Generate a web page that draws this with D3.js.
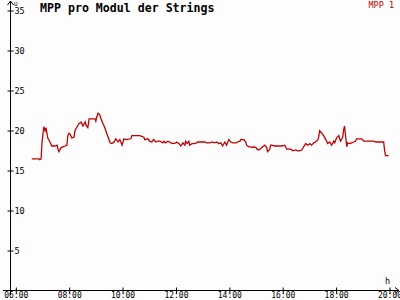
<!DOCTYPE html>
<html><head><meta charset="utf-8">
<script src="https://cdn.jsdelivr.net/npm/d3@7"></script>
<style>
html,body{margin:0;padding:0;background:#fdfdfd;}
svg{display:block;}
text{font-family:"DejaVu Sans Mono",monospace;}
</style></head>
<body>
<svg id="c" width="400" height="300"></svg>
<script>
const title = "MPP pro Modul der Strings";
const seriesName = "MPP 1";
const yUnit = "U";
const xUnit = "h";
const yTicks = [5,10,15,20,25,30,35];
const xTickHours = [6,8,10,12,14,16,18,20];
const times = [
"06:37","06:53","06:55","06:58","07:00","07:04","07:07","07:09","07:13","07:18",
"07:22","07:29","07:34","07:36","07:38","07:43","07:47","07:52","07:56","07:58",
"08:01","08:03","08:07","08:12","08:14","08:19","08:23","08:28","08:32","08:37",
"08:39","08:43","08:46","08:50","08:59","09:01","09:03","09:06","09:10","09:12",
"09:17","09:21","09:26","09:30","09:33","09:37","09:42","09:46","09:51","09:55",
"10:00","10:04","10:09","10:20","10:22","10:33","10:40","10:49","10:51","10:58",
"11:02","11:07","11:11","11:16","11:20","11:25","11:32","11:34","11:38","11:43",
"11:50","11:54","12:01","12:03","12:08","12:12","12:17","12:21","12:23","12:26",
"12:30","12:32","12:37","12:41","12:48","12:50","13:06","13:10","13:17","13:22",
"13:28","13:33","13:37","13:42","13:46","13:51","13:55","14:00","14:04","14:09",
"14:16","14:20","14:25","14:27","14:34","14:38","14:40","14:45","14:49","14:52",
"14:56","15:01","15:05","15:10","15:16","15:21","15:25","15:27","15:32","15:34",
"15:36","15:43","15:54","15:59","16:06","16:10","16:15","16:19","16:24","16:30",
"16:35","16:39","16:44","16:48","16:53","16:57","17:02","17:06","17:11","17:15",
"17:20","17:22","17:24","17:29","17:33","17:38","17:42","17:47","17:51","17:56",
"17:58","18:02","18:07","18:11","18:16","18:18","18:20","18:23","18:25","18:27",
"18:32","18:36","18:41","18:45","18:47","18:59","19:03","19:26","19:30","19:48",
"19:50","19:52","19:59"];
const values = [
16.4,16.4,16.3,16.4,18.4,20.4,19.9,20.3,19.0,18.5,
18.0,18.0,18.1,17.6,17.3,17.8,17.9,18.0,18.1,19.3,
19.6,19.5,19.0,19.1,19.9,20.4,20.8,21.0,20.5,21.0,
20.6,20.3,21.4,21.4,21.4,21.1,21.6,22.1,21.9,21.5,
20.8,20.3,19.5,18.9,18.4,18.3,18.5,18.9,18.5,18.8,
18.1,18.9,18.8,18.9,19.3,19.3,19.3,19.1,18.8,18.9,
18.6,18.5,18.8,18.5,18.6,18.6,18.4,18.6,18.4,18.6,
18.4,18.3,18.4,18.5,18.3,18.0,18.4,18.1,18.6,18.3,
18.6,18.1,18.3,18.3,18.4,18.5,18.5,18.4,18.4,18.5,
18.4,18.5,18.3,18.4,18.0,18.5,18.1,18.8,18.5,18.4,
18.4,18.5,18.6,18.8,18.8,18.5,18.1,17.9,17.9,17.8,
17.9,17.8,17.5,17.6,17.9,18.1,17.8,17.3,17.6,18.1,
18.1,18.0,18.0,18.0,18.1,17.6,17.6,17.6,17.4,17.5,
17.4,17.4,17.5,17.9,18.3,18.1,18.3,18.1,18.4,18.5,
18.8,19.1,19.9,19.6,19.3,18.8,18.3,18.5,18.1,18.6,
18.4,19.0,19.3,18.6,19.1,20.0,20.5,19.0,17.9,18.4,
18.3,18.4,18.5,18.6,18.9,18.9,18.6,18.6,18.5,18.5,
17.5,16.8,16.8];

const toH = s => { const [h,m] = s.split(":").map(Number); return h + m/60; };
const data = times.map((t,i) => ({h: toH(t), v: values[i]}));

const svg = d3.select("#c");
const x = d3.scaleLinear().domain([6,20]).range([15.3,389]);
const y = d3.scaleLinear().domain([0,35]).range([290,10]);
const axisX0 = 10; // y-axis line position
const red = "#c00000";

// axes lines
svg.append("line").attr("x1",axisX0+0.5).attr("x2",axisX0+0.5).attr("y1",y(0)+5).attr("y2",1)
  .attr("stroke","#000").attr("stroke-width",1);
svg.append("path").attr("d",`M${axisX0-2.5},5 L${axisX0+0.5},1 L${axisX0+3.5},5`).attr("fill","none").attr("stroke","#000");
svg.append("line").attr("x1",3).attr("x2",399).attr("y1",y(0)+0.5).attr("y2",y(0)+0.5)
  .attr("stroke","#000").attr("stroke-width",1);
svg.append("path").attr("d",`M395,${y(0)-2.5} L399,${y(0)+0.5} L395,${y(0)+3.5}`).attr("fill","none").attr("stroke","#000");

// y axis ticks
const ya = svg.append("g").attr("transform",`translate(${axisX0+0.5},0.5)`)
  .call(d3.axisRight(y).tickValues(yTicks).tickSize(3).tickPadding(1).tickFormat(d3.format("d")));
ya.select(".domain").remove();
ya.selectAll(".tick line").attr("x1",-3).attr("stroke","#000");
ya.selectAll(".tick text").attr("font-size","8.5px").attr("fill","#000")
  .attr("font-family","DejaVu Sans Mono").attr("dy","0.35em");

// x axis ticks
const xa = svg.append("g").attr("transform",`translate(0.5,${y(0)+0.5})`)
  .call(d3.axisBottom(x).tickValues(xTickHours).tickSize(3).tickPadding(1)
    .tickFormat(h => String(h).padStart(2,"0") + ":00"));
xa.select(".domain").remove();
xa.selectAll(".tick line").attr("y1",-3).attr("stroke","#000");
xa.selectAll(".tick text").attr("font-size","8px").attr("fill","#000")
  .attr("font-family","DejaVu Sans Mono").attr("y",2).attr("dy","0.72em");

// unit labels
svg.append("text").attr("x",14).attr("y",5.5).attr("font-size","6px").text(yUnit);
svg.append("text").attr("x",385).attr("y",284).attr("font-size","8.5px").text(xUnit);

// title
svg.append("text").attr("x",40).attr("y",12).attr("font-size","11.6px").attr("font-weight","bold").text(title);
// legend
svg.append("text").attr("x",394).attr("y",8).attr("text-anchor","end").attr("font-size","8.5px").attr("fill",red).text(seriesName);

// line
const line = d3.line().x(d => x(d.h)).y(d => y(d.v));
svg.append("path").datum(data).attr("d",line).attr("fill","none").attr("stroke",red).attr("stroke-width",1.3);
</script>
</body></html>
